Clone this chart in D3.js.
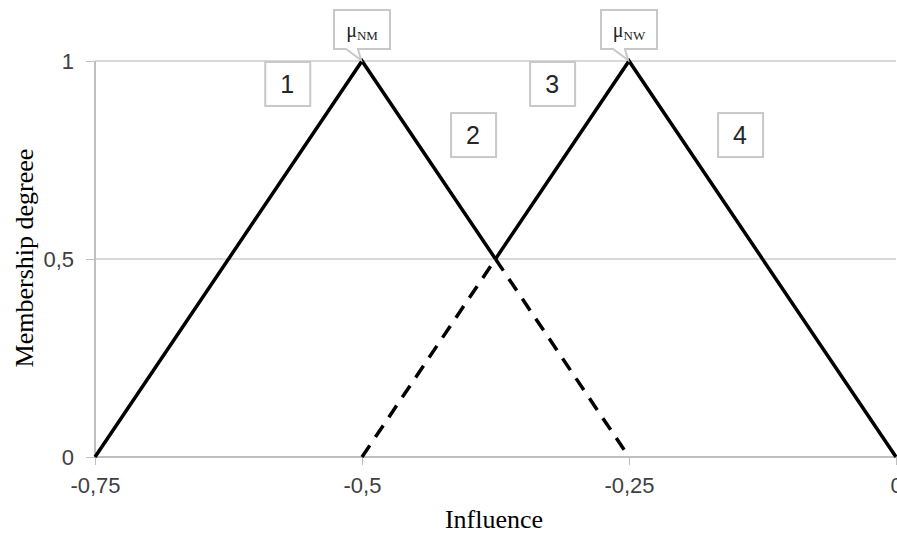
<!DOCTYPE html>
<html>
<meta charset="utf-8">
<style>

body {
  margin: 0;
  background: #fff;
}

.grid line {
  stroke: #d9d9d9;
  stroke-width: 1.5px;
  shape-rendering: crispEdges;
}

.axis path,
.axis line {
  fill: none;
  stroke: #bfbfbf;
  stroke-width: 1.5px;
  shape-rendering: crispEdges;
}

.axis text {
  font: 22px "Liberation Sans", sans-serif;
  fill: #404040;
}

.title {
  font: 26px "Liberation Serif", serif;
  fill: #000;
}

.curve {
  fill: none;
  stroke: #000;
  stroke-width: 3.5px;
}

.dashed {
  stroke-dasharray: 14, 10;
}

.box {
  fill: #fff;
  stroke: #c8c8c8;
  stroke-width: 2px;
}

.region {
  font: 25px "Liberation Sans", sans-serif;
  fill: #262626;
}

.callout {
  font: 20px "Liberation Serif", serif;
  fill: #222;
}

</style>
<body>
<script src="https://d3js.org/d3.v7.min.js"></script>
<script>

var xTicks = [-0.75, -0.5, -0.25, 0],
    xTickLabels = ["-0,75", "-0,5", "-0,25", "0"],
    yTicks = [0, 0.5, 1],
    yTickLabels = ["0", "0,5", "1"];

// membership functions, split into solid / dashed pieces
var nmSolidX = [-0.75, -0.5, -0.375],
    nmSolidY = [0, 1, 0.5],
    nmDashX = [-0.375, -0.25],
    nmDashY = [0.5, 0],
    nwDashX = [-0.5, -0.375],
    nwDashY = [0, 0.5],
    nwSolidX = [-0.375, -0.25, 0],
    nwSolidY = [0.5, 1, 0];

var regionNames = ["1", "2", "3", "4"],
    regionX = [-0.570, -0.396, -0.322, -0.146],
    regionY = [0.942, 0.813, 0.942, 0.813];

var calloutNames = ["NM", "NW"],
    calloutX = [-0.5, -0.25],
    calloutY = [1, 1];

var width = 897,
    height = 534;

var x = d3.scaleLinear()
    .domain([-0.75, 0])
    .range([95, 896]);

var y = d3.scaleLinear()
    .domain([0, 1])
    .range([457, 61]);

var svg = d3.select("body").append("svg")
    .attr("width", width)
    .attr("height", height);

svg.append("g")
    .attr("class", "grid")
  .selectAll("line")
    .data(yTicks.slice(1))
  .enter().append("line")
    .attr("x1", x(-0.75))
    .attr("x2", x(0))
    .attr("y1", function(d) { return y(d); })
    .attr("y2", function(d) { return y(d); });

var xAxis = d3.axisBottom(x)
    .tickValues(xTicks)
    .tickSize(8)
    .tickPadding(12)
    .tickFormat(function(d, i) { return xTickLabels[i]; });

var yAxis = d3.axisLeft(y)
    .tickValues(yTicks)
    .tickSize(9)
    .tickPadding(12)
    .tickFormat(function(d, i) { return yTickLabels[i]; });

svg.append("g")
    .attr("class", "x axis")
    .attr("transform", "translate(0," + y(0) + ")")
    .call(xAxis)
    .call(function(g) { g.select(".domain").attr("d", "M" + x(-0.75) + ",0H" + x(0)); });

svg.append("g")
    .attr("class", "y axis")
    .attr("transform", "translate(" + x(-0.75) + ",0)")
    .call(yAxis)
    .call(function(g) { g.select(".domain").attr("d", "M0," + y(1) + "V" + y(0)); });

var line = d3.line()
    .x(function(d) { return x(d[0]); })
    .y(function(d) { return y(d[1]); });

function pairs(xs, ys) {
  return xs.map(function(v, i) { return [v, ys[i]]; });
}

svg.append("path")
    .attr("class", "curve dashed")
    .attr("d", line(pairs(nmDashX, nmDashY)));

svg.append("path")
    .attr("class", "curve dashed")
    .attr("d", line(pairs(nwDashX, nwDashY)));

svg.append("path")
    .attr("class", "curve")
    .attr("d", line(pairs(nmSolidX, nmSolidY)));

svg.append("path")
    .attr("class", "curve")
    .attr("d", line(pairs(nwSolidX, nwSolidY)));

// numbered boxes
var regions = svg.selectAll(".regionbox")
    .data(regionNames)
  .enter().append("g")
    .attr("class", "regionbox")
    .attr("transform", function(d, i) { return "translate(" + x(regionX[i]) + "," + y(regionY[i]) + ")"; });

regions.append("rect")
    .attr("class", "box")
    .attr("x", -22)
    .attr("y", -22)
    .attr("width", 45)
    .attr("height", 44);

regions.append("text")
    .attr("class", "region")
    .attr("text-anchor", "middle")
    .attr("y", 9)
    .text(function(d) { return d; });

// speech-bubble callouts at the peaks
var callouts = svg.selectAll(".calloutbox")
    .data(calloutNames)
  .enter().append("g")
    .attr("class", "calloutbox")
    .attr("transform", function(d, i) { return "translate(" + x(calloutX[i]) + "," + y(calloutY[i]) + ")"; });

callouts.append("path")
    .attr("class", "box")
    .attr("d", "M-28,-51H28V-12H-4L-1,-1L-16,-12H-28Z");

var ct = callouts.append("text")
    .attr("class", "callout")
    .attr("text-anchor", "middle")
    .attr("y", -24);

ct.append("tspan")
    .text("\u03bc");

ct.append("tspan")
    .attr("dy", 3)
    .attr("font-size", "13px")
    .text(function(d) { return d; });

svg.append("text")
    .attr("class", "title")
    .attr("text-anchor", "middle")
    .attr("x", 494)
    .attr("y", 528)
    .text("Influence");

svg.append("text")
    .attr("class", "title")
    .attr("text-anchor", "middle")
    .attr("transform", "translate(33,258)rotate(-90)")
    .text("Membership degreee");

</script>
</body>
</html>
